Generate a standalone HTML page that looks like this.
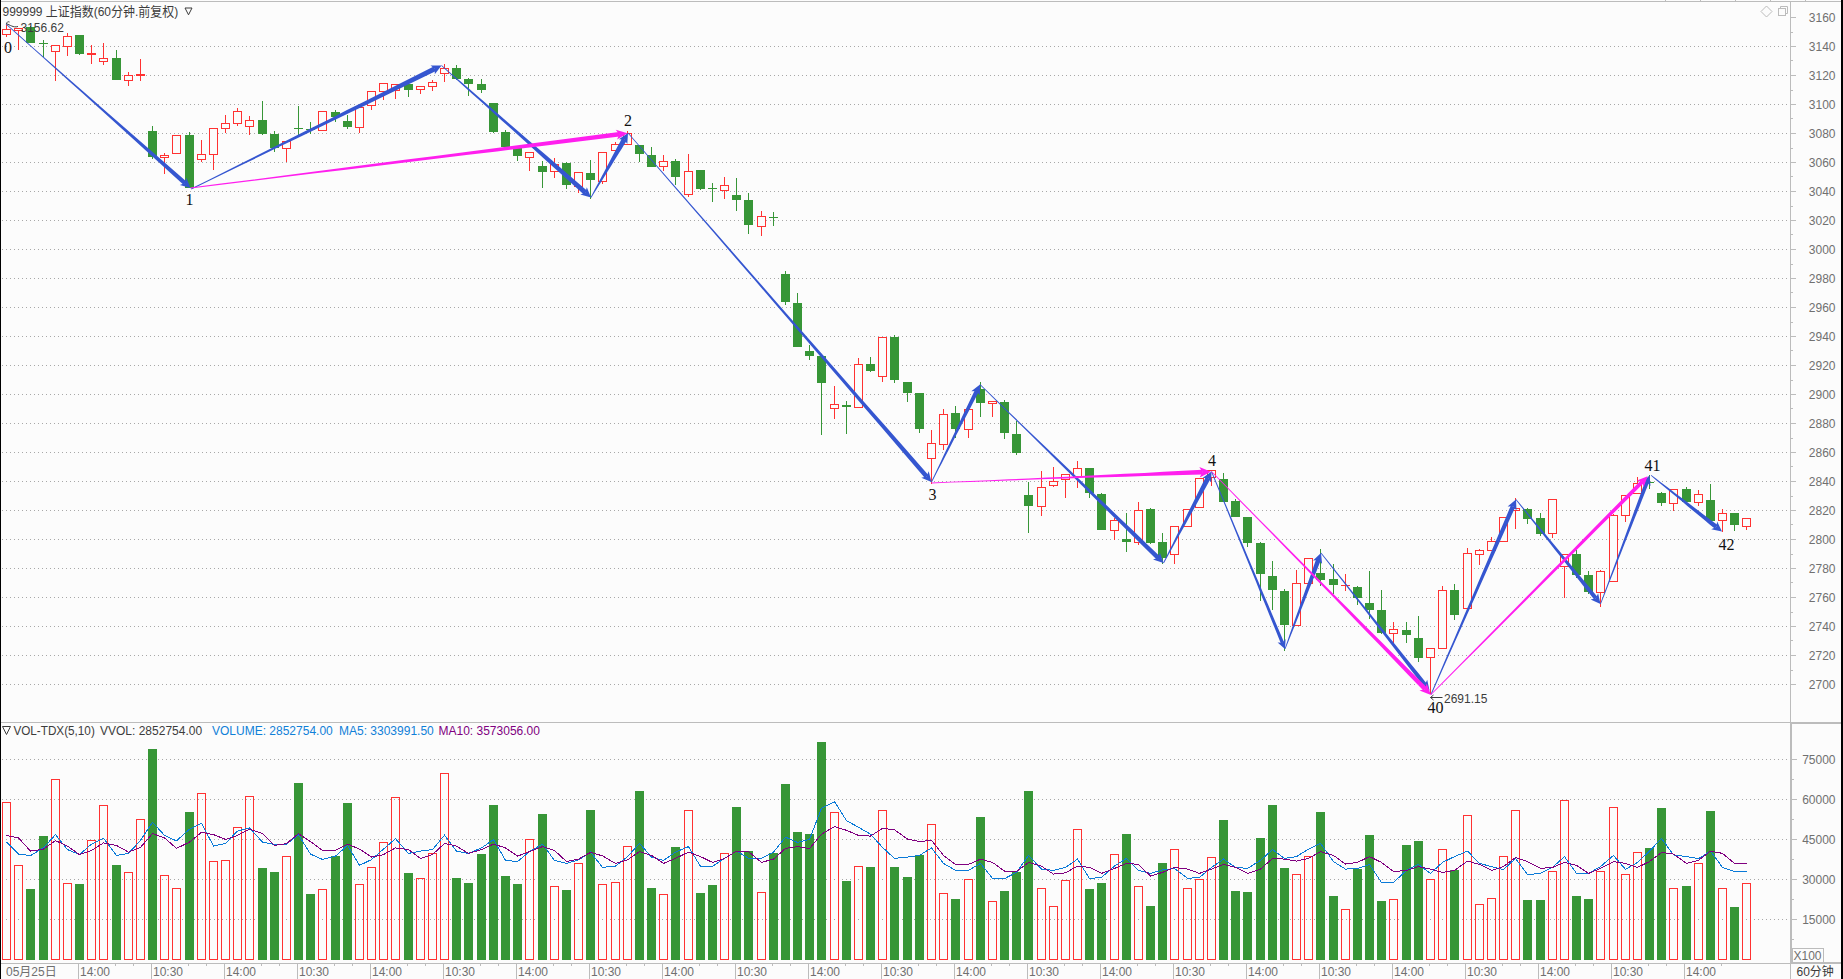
<!DOCTYPE html>
<html lang="zh"><head><meta charset="utf-8"><title>999999 上证指数</title>
<style>html,body{margin:0;padding:0;background:#fcfcfc;overflow:hidden}body{width:1843px;height:979px;position:relative}</style></head>
<body>
<svg width="1843" height="979" viewBox="0 0 1843 979" style="position:absolute;left:0;top:0;display:block" font-family="Liberation Sans, Noto Sans CJK SC, sans-serif">
<rect width="1843" height="979" fill="#fcfcfc"/>
<g stroke="#a8a8a8" stroke-width="1" stroke-dasharray="1 3" shape-rendering="crispEdges">
<line x1="2" y1="46.5" x2="1789" y2="46.5"/>
<line x1="2" y1="75.5" x2="1789" y2="75.5"/>
<line x1="2" y1="104.5" x2="1789" y2="104.5"/>
<line x1="2" y1="133.5" x2="1789" y2="133.5"/>
<line x1="2" y1="162.5" x2="1789" y2="162.5"/>
<line x1="2" y1="191.5" x2="1789" y2="191.5"/>
<line x1="2" y1="220.5" x2="1789" y2="220.5"/>
<line x1="2" y1="249.5" x2="1789" y2="249.5"/>
<line x1="2" y1="278.5" x2="1789" y2="278.5"/>
<line x1="2" y1="307.5" x2="1789" y2="307.5"/>
<line x1="2" y1="336.5" x2="1789" y2="336.5"/>
<line x1="2" y1="365.5" x2="1789" y2="365.5"/>
<line x1="2" y1="394.5" x2="1789" y2="394.5"/>
<line x1="2" y1="423.5" x2="1789" y2="423.5"/>
<line x1="2" y1="452.5" x2="1789" y2="452.5"/>
<line x1="2" y1="481.5" x2="1789" y2="481.5"/>
<line x1="2" y1="510.5" x2="1789" y2="510.5"/>
<line x1="2" y1="539.5" x2="1789" y2="539.5"/>
<line x1="2" y1="568.5" x2="1789" y2="568.5"/>
<line x1="2" y1="597.5" x2="1789" y2="597.5"/>
<line x1="2" y1="626.5" x2="1789" y2="626.5"/>
<line x1="2" y1="655.5" x2="1789" y2="655.5"/>
<line x1="2" y1="684.5" x2="1789" y2="684.5"/>
<line x1="2" y1="759.5" x2="1789" y2="759.5"/>
<line x1="2" y1="799.5" x2="1789" y2="799.5"/>
<line x1="2" y1="839.5" x2="1789" y2="839.5"/>
<line x1="2" y1="879.5" x2="1789" y2="879.5"/>
<line x1="2" y1="919.5" x2="1789" y2="919.5"/>
</g>
<g fill="#bcbcbc" shape-rendering="crispEdges">
<rect x="0" y="1" width="1841" height="1"/>
<rect x="1770" y="0" width="1" height="2"/><rect x="1805" y="0" width="1" height="2"/><rect x="1665" y="0" width="1" height="2"/><rect x="1700" y="0" width="1" height="2"/><rect x="1735" y="0" width="1" height="2"/>
<rect x="1790" y="2" width="1" height="977"/>
<rect x="1791" y="722" width="1" height="241"/>
<rect x="0" y="722" width="1841" height="1"/>
<rect x="1791" y="723" width="50" height="1"/>
<rect x="0" y="963" width="1841" height="1"/>
<rect x="1791" y="962" width="50" height="1"/>
<rect x="1791" y="17" width="5" height="1"/>
<rect x="1791" y="32" width="2" height="1"/>
<rect x="1791" y="46" width="5" height="1"/>
<rect x="1791" y="60" width="2" height="1"/>
<rect x="1791" y="75" width="5" height="1"/>
<rect x="1791" y="90" width="2" height="1"/>
<rect x="1791" y="104" width="5" height="1"/>
<rect x="1791" y="118" width="2" height="1"/>
<rect x="1791" y="133" width="5" height="1"/>
<rect x="1791" y="148" width="2" height="1"/>
<rect x="1791" y="162" width="5" height="1"/>
<rect x="1791" y="176" width="2" height="1"/>
<rect x="1791" y="191" width="5" height="1"/>
<rect x="1791" y="206" width="2" height="1"/>
<rect x="1791" y="220" width="5" height="1"/>
<rect x="1791" y="234" width="2" height="1"/>
<rect x="1791" y="249" width="5" height="1"/>
<rect x="1791" y="264" width="2" height="1"/>
<rect x="1791" y="278" width="5" height="1"/>
<rect x="1791" y="292" width="2" height="1"/>
<rect x="1791" y="307" width="5" height="1"/>
<rect x="1791" y="322" width="2" height="1"/>
<rect x="1791" y="336" width="5" height="1"/>
<rect x="1791" y="350" width="2" height="1"/>
<rect x="1791" y="365" width="5" height="1"/>
<rect x="1791" y="380" width="2" height="1"/>
<rect x="1791" y="394" width="5" height="1"/>
<rect x="1791" y="408" width="2" height="1"/>
<rect x="1791" y="423" width="5" height="1"/>
<rect x="1791" y="438" width="2" height="1"/>
<rect x="1791" y="452" width="5" height="1"/>
<rect x="1791" y="466" width="2" height="1"/>
<rect x="1791" y="481" width="5" height="1"/>
<rect x="1791" y="496" width="2" height="1"/>
<rect x="1791" y="510" width="5" height="1"/>
<rect x="1791" y="524" width="2" height="1"/>
<rect x="1791" y="539" width="5" height="1"/>
<rect x="1791" y="554" width="2" height="1"/>
<rect x="1791" y="568" width="5" height="1"/>
<rect x="1791" y="582" width="2" height="1"/>
<rect x="1791" y="597" width="5" height="1"/>
<rect x="1791" y="612" width="2" height="1"/>
<rect x="1791" y="626" width="5" height="1"/>
<rect x="1791" y="640" width="2" height="1"/>
<rect x="1791" y="655" width="5" height="1"/>
<rect x="1791" y="670" width="2" height="1"/>
<rect x="1791" y="684" width="5" height="1"/>
<rect x="1792" y="939" width="2" height="1"/>
<rect x="1792" y="919" width="5" height="1"/>
<rect x="1792" y="899" width="2" height="1"/>
<rect x="1792" y="879" width="5" height="1"/>
<rect x="1792" y="859" width="2" height="1"/>
<rect x="1792" y="839" width="5" height="1"/>
<rect x="1792" y="819" width="2" height="1"/>
<rect x="1792" y="799" width="5" height="1"/>
<rect x="1792" y="779" width="2" height="1"/>
<rect x="1792" y="759" width="5" height="1"/>
<rect x="78" y="964" width="1" height="15"/>
<rect x="115" y="964" width="1" height="2"/>
<rect x="133" y="964" width="1" height="2"/>
<rect x="151" y="964" width="1" height="15"/>
<rect x="188" y="964" width="1" height="2"/>
<rect x="206" y="964" width="1" height="2"/>
<rect x="224" y="964" width="1" height="15"/>
<rect x="261" y="964" width="1" height="2"/>
<rect x="279" y="964" width="1" height="2"/>
<rect x="297" y="964" width="1" height="15"/>
<rect x="334" y="964" width="1" height="2"/>
<rect x="352" y="964" width="1" height="2"/>
<rect x="370" y="964" width="1" height="15"/>
<rect x="407" y="964" width="1" height="2"/>
<rect x="425" y="964" width="1" height="2"/>
<rect x="443" y="964" width="1" height="15"/>
<rect x="480" y="964" width="1" height="2"/>
<rect x="498" y="964" width="1" height="2"/>
<rect x="516" y="964" width="1" height="15"/>
<rect x="553" y="964" width="1" height="2"/>
<rect x="571" y="964" width="1" height="2"/>
<rect x="589" y="964" width="1" height="15"/>
<rect x="626" y="964" width="1" height="2"/>
<rect x="644" y="964" width="1" height="2"/>
<rect x="662" y="964" width="1" height="15"/>
<rect x="699" y="964" width="1" height="2"/>
<rect x="717" y="964" width="1" height="2"/>
<rect x="735" y="964" width="1" height="15"/>
<rect x="772" y="964" width="1" height="2"/>
<rect x="790" y="964" width="1" height="2"/>
<rect x="808" y="964" width="1" height="15"/>
<rect x="845" y="964" width="1" height="2"/>
<rect x="863" y="964" width="1" height="2"/>
<rect x="881" y="964" width="1" height="15"/>
<rect x="918" y="964" width="1" height="2"/>
<rect x="936" y="964" width="1" height="2"/>
<rect x="954" y="964" width="1" height="15"/>
<rect x="991" y="964" width="1" height="2"/>
<rect x="1009" y="964" width="1" height="2"/>
<rect x="1027" y="964" width="1" height="15"/>
<rect x="1064" y="964" width="1" height="2"/>
<rect x="1082" y="964" width="1" height="2"/>
<rect x="1100" y="964" width="1" height="15"/>
<rect x="1137" y="964" width="1" height="2"/>
<rect x="1155" y="964" width="1" height="2"/>
<rect x="1173" y="964" width="1" height="15"/>
<rect x="1210" y="964" width="1" height="2"/>
<rect x="1228" y="964" width="1" height="2"/>
<rect x="1246" y="964" width="1" height="15"/>
<rect x="1283" y="964" width="1" height="2"/>
<rect x="1301" y="964" width="1" height="2"/>
<rect x="1319" y="964" width="1" height="15"/>
<rect x="1356" y="964" width="1" height="2"/>
<rect x="1374" y="964" width="1" height="2"/>
<rect x="1392" y="964" width="1" height="15"/>
<rect x="1429" y="964" width="1" height="2"/>
<rect x="1447" y="964" width="1" height="2"/>
<rect x="1465" y="964" width="1" height="15"/>
<rect x="1502" y="964" width="1" height="2"/>
<rect x="1520" y="964" width="1" height="2"/>
<rect x="1538" y="964" width="1" height="15"/>
<rect x="1575" y="964" width="1" height="2"/>
<rect x="1593" y="964" width="1" height="2"/>
<rect x="1611" y="964" width="1" height="15"/>
<rect x="1648" y="964" width="1" height="2"/>
<rect x="1666" y="964" width="1" height="2"/>
<rect x="1684" y="964" width="1" height="15"/>
<rect x="1721" y="964" width="1" height="2"/>
</g><rect x="1792.5" y="948.5" width="31" height="14" fill="none" stroke="#bcbcbc" stroke-width="1" shape-rendering="crispEdges"/>
<g fill="none" stroke="#bcbcbc" stroke-width="1"><path d="M1766.5 6 L1772 11.5 L1766.5 17 L1761 11.5 Z"/><path d="M1780.5 8.5 V6.5 H1787.5 V13.5 H1785.5"/><rect x="1778.5" y="8.5" width="7" height="7"/></g>
<rect x="0" y="0" width="1" height="979" fill="#000"/><rect x="1841" y="0" width="2" height="979" fill="#000"/>
<g font-size="12" fill="#707070" text-anchor="end">
<text x="1835.5" y="21.8">3160</text>
<text x="1835.5" y="50.8">3140</text>
<text x="1835.5" y="79.8">3120</text>
<text x="1835.5" y="108.8">3100</text>
<text x="1835.5" y="137.8">3080</text>
<text x="1835.5" y="166.8">3060</text>
<text x="1835.5" y="195.8">3040</text>
<text x="1835.5" y="224.8">3020</text>
<text x="1835.5" y="253.8">3000</text>
<text x="1835.5" y="282.8">2980</text>
<text x="1835.5" y="311.8">2960</text>
<text x="1835.5" y="340.8">2940</text>
<text x="1835.5" y="369.8">2920</text>
<text x="1835.5" y="398.8">2900</text>
<text x="1835.5" y="427.8">2880</text>
<text x="1835.5" y="456.8">2860</text>
<text x="1835.5" y="485.8">2840</text>
<text x="1835.5" y="514.8">2820</text>
<text x="1835.5" y="543.8">2800</text>
<text x="1835.5" y="572.8">2780</text>
<text x="1835.5" y="601.8">2760</text>
<text x="1835.5" y="630.8">2740</text>
<text x="1835.5" y="659.8">2720</text>
<text x="1835.5" y="688.8">2700</text>
<text x="1835.5" y="763.8">75000</text>
<text x="1835.5" y="803.8">60000</text>
<text x="1835.5" y="843.8">45000</text>
<text x="1835.5" y="883.8">30000</text>
<text x="1835.5" y="923.8">15000</text>
</g>
<text x="1793.5" y="960" font-size="12" fill="#707070">X100</text>
<text x="1796.5" y="976" font-size="12" fill="#3c3c3c">60分钟</text>
<g font-size="12" fill="#707070">
<text x="6" y="976">05月25日</text>
<text x="80.0" y="976">14:00</text>
<text x="153.0" y="976">10:30</text>
<text x="226.0" y="976">14:00</text>
<text x="299.0" y="976">10:30</text>
<text x="372.0" y="976">14:00</text>
<text x="445.0" y="976">10:30</text>
<text x="518.0" y="976">14:00</text>
<text x="591.0" y="976">10:30</text>
<text x="664.0" y="976">14:00</text>
<text x="737.0" y="976">10:30</text>
<text x="810.0" y="976">14:00</text>
<text x="883.0" y="976">10:30</text>
<text x="956.0" y="976">14:00</text>
<text x="1029.0" y="976">10:30</text>
<text x="1102.0" y="976">14:00</text>
<text x="1175.0" y="976">10:30</text>
<text x="1248.0" y="976">14:00</text>
<text x="1321.0" y="976">10:30</text>
<text x="1394.0" y="976">14:00</text>
<text x="1467.0" y="976">10:30</text>
<text x="1540.0" y="976">14:00</text>
<text x="1613.0" y="976">10:30</text>
<text x="1686.0" y="976">14:00</text>
</g>
<g shape-rendering="crispEdges">
<rect x="2.5" y="802.5" width="8" height="157" fill="none" stroke="#ff3232" stroke-width="1"/>
<rect x="14.5" y="865.5" width="8" height="94" fill="none" stroke="#ff3232" stroke-width="1"/>
<rect x="26" y="889" width="9" height="71" fill="#379637"/>
<rect x="39" y="836" width="9" height="124" fill="#379637"/>
<rect x="51.5" y="779.5" width="8" height="180" fill="none" stroke="#ff3232" stroke-width="1"/>
<rect x="63.5" y="883.5" width="8" height="76" fill="none" stroke="#ff3232" stroke-width="1"/>
<rect x="75" y="884" width="9" height="76" fill="#379637"/>
<rect x="87.5" y="840.5" width="8" height="119" fill="none" stroke="#ff3232" stroke-width="1"/>
<rect x="99.5" y="805.5" width="8" height="154" fill="none" stroke="#ff3232" stroke-width="1"/>
<rect x="112" y="865" width="9" height="95" fill="#379637"/>
<rect x="124.5" y="872.5" width="8" height="87" fill="none" stroke="#ff3232" stroke-width="1"/>
<rect x="136.5" y="819.5" width="8" height="140" fill="none" stroke="#ff3232" stroke-width="1"/>
<rect x="148" y="749" width="9" height="211" fill="#379637"/>
<rect x="160.5" y="875.5" width="8" height="84" fill="none" stroke="#ff3232" stroke-width="1"/>
<rect x="172.5" y="888.5" width="8" height="71" fill="none" stroke="#ff3232" stroke-width="1"/>
<rect x="185" y="812" width="9" height="148" fill="#379637"/>
<rect x="197.5" y="793.5" width="8" height="166" fill="none" stroke="#ff3232" stroke-width="1"/>
<rect x="209.5" y="861.5" width="8" height="98" fill="none" stroke="#ff3232" stroke-width="1"/>
<rect x="221.5" y="860.5" width="8" height="99" fill="none" stroke="#ff3232" stroke-width="1"/>
<rect x="233.5" y="827.5" width="8" height="132" fill="none" stroke="#ff3232" stroke-width="1"/>
<rect x="245.5" y="796.5" width="8" height="163" fill="none" stroke="#ff3232" stroke-width="1"/>
<rect x="258" y="868" width="9" height="92" fill="#379637"/>
<rect x="270" y="872" width="9" height="88" fill="#379637"/>
<rect x="282.5" y="856.5" width="8" height="103" fill="none" stroke="#ff3232" stroke-width="1"/>
<rect x="294" y="783" width="9" height="177" fill="#379637"/>
<rect x="306" y="894" width="9" height="66" fill="#379637"/>
<rect x="318.5" y="889.5" width="8" height="70" fill="none" stroke="#ff3232" stroke-width="1"/>
<rect x="331" y="856" width="9" height="104" fill="#379637"/>
<rect x="343" y="803" width="9" height="157" fill="#379637"/>
<rect x="355.5" y="884.5" width="8" height="75" fill="none" stroke="#ff3232" stroke-width="1"/>
<rect x="367.5" y="867.5" width="8" height="92" fill="none" stroke="#ff3232" stroke-width="1"/>
<rect x="379.5" y="842.5" width="8" height="117" fill="none" stroke="#ff3232" stroke-width="1"/>
<rect x="391.5" y="797.5" width="8" height="162" fill="none" stroke="#ff3232" stroke-width="1"/>
<rect x="404" y="873" width="9" height="87" fill="#379637"/>
<rect x="416.5" y="878.5" width="8" height="81" fill="none" stroke="#ff3232" stroke-width="1"/>
<rect x="428.5" y="853.5" width="8" height="106" fill="none" stroke="#ff3232" stroke-width="1"/>
<rect x="440.5" y="773.5" width="8" height="186" fill="none" stroke="#ff3232" stroke-width="1"/>
<rect x="452" y="878" width="9" height="82" fill="#379637"/>
<rect x="464" y="883" width="9" height="77" fill="#379637"/>
<rect x="477" y="854" width="9" height="106" fill="#379637"/>
<rect x="489" y="805" width="9" height="155" fill="#379637"/>
<rect x="501" y="876" width="9" height="84" fill="#379637"/>
<rect x="513" y="884" width="9" height="76" fill="#379637"/>
<rect x="525.5" y="839.5" width="8" height="120" fill="none" stroke="#ff3232" stroke-width="1"/>
<rect x="538" y="814" width="9" height="146" fill="#379637"/>
<rect x="550.5" y="886.5" width="8" height="73" fill="none" stroke="#ff3232" stroke-width="1"/>
<rect x="562" y="890" width="9" height="70" fill="#379637"/>
<rect x="574.5" y="863.5" width="8" height="96" fill="none" stroke="#ff3232" stroke-width="1"/>
<rect x="586" y="810" width="9" height="150" fill="#379637"/>
<rect x="598.5" y="884.5" width="8" height="75" fill="none" stroke="#ff3232" stroke-width="1"/>
<rect x="611.5" y="882.5" width="8" height="77" fill="none" stroke="#ff3232" stroke-width="1"/>
<rect x="623.5" y="846.5" width="8" height="113" fill="none" stroke="#ff3232" stroke-width="1"/>
<rect x="635" y="791" width="9" height="169" fill="#379637"/>
<rect x="647" y="888" width="9" height="72" fill="#379637"/>
<rect x="659.5" y="894.5" width="8" height="65" fill="none" stroke="#ff3232" stroke-width="1"/>
<rect x="671" y="847" width="9" height="113" fill="#379637"/>
<rect x="684.5" y="810.5" width="8" height="149" fill="none" stroke="#ff3232" stroke-width="1"/>
<rect x="696" y="893" width="9" height="67" fill="#379637"/>
<rect x="708" y="885" width="9" height="75" fill="#379637"/>
<rect x="720.5" y="853.5" width="8" height="106" fill="none" stroke="#ff3232" stroke-width="1"/>
<rect x="732" y="807" width="9" height="153" fill="#379637"/>
<rect x="744" y="851" width="9" height="109" fill="#379637"/>
<rect x="757.5" y="892.5" width="8" height="67" fill="none" stroke="#ff3232" stroke-width="1"/>
<rect x="769" y="853" width="9" height="107" fill="#379637"/>
<rect x="781" y="784" width="9" height="176" fill="#379637"/>
<rect x="793" y="832" width="9" height="128" fill="#379637"/>
<rect x="805" y="834" width="9" height="126" fill="#379637"/>
<rect x="817" y="742" width="9" height="218" fill="#379637"/>
<rect x="830.5" y="812.5" width="8" height="147" fill="none" stroke="#ff3232" stroke-width="1"/>
<rect x="842" y="881" width="9" height="79" fill="#379637"/>
<rect x="854.5" y="866.5" width="8" height="93" fill="none" stroke="#ff3232" stroke-width="1"/>
<rect x="866" y="867" width="9" height="93" fill="#379637"/>
<rect x="878.5" y="810.5" width="8" height="149" fill="none" stroke="#ff3232" stroke-width="1"/>
<rect x="890" y="867" width="9" height="93" fill="#379637"/>
<rect x="903" y="877" width="9" height="83" fill="#379637"/>
<rect x="915" y="855" width="9" height="105" fill="#379637"/>
<rect x="927.5" y="824.5" width="8" height="135" fill="none" stroke="#ff3232" stroke-width="1"/>
<rect x="939.5" y="893.5" width="8" height="66" fill="none" stroke="#ff3232" stroke-width="1"/>
<rect x="951" y="899" width="9" height="61" fill="#379637"/>
<rect x="964.5" y="879.5" width="8" height="80" fill="none" stroke="#ff3232" stroke-width="1"/>
<rect x="976" y="817" width="9" height="143" fill="#379637"/>
<rect x="988.5" y="901.5" width="8" height="58" fill="none" stroke="#ff3232" stroke-width="1"/>
<rect x="1000" y="891" width="9" height="69" fill="#379637"/>
<rect x="1012" y="872" width="9" height="88" fill="#379637"/>
<rect x="1024" y="791" width="9" height="169" fill="#379637"/>
<rect x="1037.5" y="888.5" width="8" height="71" fill="none" stroke="#ff3232" stroke-width="1"/>
<rect x="1049.5" y="906.5" width="8" height="53" fill="none" stroke="#ff3232" stroke-width="1"/>
<rect x="1061.5" y="880.5" width="8" height="79" fill="none" stroke="#ff3232" stroke-width="1"/>
<rect x="1073.5" y="829.5" width="8" height="130" fill="none" stroke="#ff3232" stroke-width="1"/>
<rect x="1085" y="889" width="9" height="71" fill="#379637"/>
<rect x="1097" y="883" width="9" height="77" fill="#379637"/>
<rect x="1110.5" y="854.5" width="8" height="105" fill="none" stroke="#ff3232" stroke-width="1"/>
<rect x="1122" y="834" width="9" height="126" fill="#379637"/>
<rect x="1134.5" y="886.5" width="8" height="73" fill="none" stroke="#ff3232" stroke-width="1"/>
<rect x="1146" y="906" width="9" height="54" fill="#379637"/>
<rect x="1158" y="863" width="9" height="97" fill="#379637"/>
<rect x="1170.5" y="849.5" width="8" height="110" fill="none" stroke="#ff3232" stroke-width="1"/>
<rect x="1183.5" y="888.5" width="8" height="71" fill="none" stroke="#ff3232" stroke-width="1"/>
<rect x="1195.5" y="879.5" width="8" height="80" fill="none" stroke="#ff3232" stroke-width="1"/>
<rect x="1207.5" y="857.5" width="8" height="102" fill="none" stroke="#ff3232" stroke-width="1"/>
<rect x="1219" y="820" width="9" height="140" fill="#379637"/>
<rect x="1231" y="891" width="9" height="69" fill="#379637"/>
<rect x="1243" y="892" width="9" height="68" fill="#379637"/>
<rect x="1256" y="838" width="9" height="122" fill="#379637"/>
<rect x="1268" y="805" width="9" height="155" fill="#379637"/>
<rect x="1280" y="868" width="9" height="92" fill="#379637"/>
<rect x="1292.5" y="874.5" width="8" height="85" fill="none" stroke="#ff3232" stroke-width="1"/>
<rect x="1304.5" y="856.5" width="8" height="103" fill="none" stroke="#ff3232" stroke-width="1"/>
<rect x="1316" y="812" width="9" height="148" fill="#379637"/>
<rect x="1329" y="896" width="9" height="64" fill="#379637"/>
<rect x="1341.5" y="909.5" width="8" height="50" fill="none" stroke="#ff3232" stroke-width="1"/>
<rect x="1353" y="869" width="9" height="91" fill="#379637"/>
<rect x="1365" y="835" width="9" height="125" fill="#379637"/>
<rect x="1377" y="901" width="9" height="59" fill="#379637"/>
<rect x="1389.5" y="899.5" width="8" height="60" fill="none" stroke="#ff3232" stroke-width="1"/>
<rect x="1402" y="845" width="9" height="115" fill="#379637"/>
<rect x="1414" y="841" width="9" height="119" fill="#379637"/>
<rect x="1426.5" y="879.5" width="8" height="80" fill="none" stroke="#ff3232" stroke-width="1"/>
<rect x="1438.5" y="849.5" width="8" height="110" fill="none" stroke="#ff3232" stroke-width="1"/>
<rect x="1450" y="870" width="9" height="90" fill="#379637"/>
<rect x="1463.5" y="815.5" width="8" height="144" fill="none" stroke="#ff3232" stroke-width="1"/>
<rect x="1475.5" y="904.5" width="8" height="55" fill="none" stroke="#ff3232" stroke-width="1"/>
<rect x="1487.5" y="898.5" width="8" height="61" fill="none" stroke="#ff3232" stroke-width="1"/>
<rect x="1499.5" y="856.5" width="8" height="103" fill="none" stroke="#ff3232" stroke-width="1"/>
<rect x="1511.5" y="810.5" width="8" height="149" fill="none" stroke="#ff3232" stroke-width="1"/>
<rect x="1523" y="900" width="9" height="60" fill="#379637"/>
<rect x="1536" y="900" width="9" height="60" fill="#379637"/>
<rect x="1548.5" y="871.5" width="8" height="88" fill="none" stroke="#ff3232" stroke-width="1"/>
<rect x="1560.5" y="800.5" width="8" height="159" fill="none" stroke="#ff3232" stroke-width="1"/>
<rect x="1572" y="896" width="9" height="64" fill="#379637"/>
<rect x="1584" y="899" width="9" height="61" fill="#379637"/>
<rect x="1596.5" y="871.5" width="8" height="88" fill="none" stroke="#ff3232" stroke-width="1"/>
<rect x="1609.5" y="807.5" width="8" height="152" fill="none" stroke="#ff3232" stroke-width="1"/>
<rect x="1621.5" y="874.5" width="8" height="85" fill="none" stroke="#ff3232" stroke-width="1"/>
<rect x="1633.5" y="852.5" width="8" height="107" fill="none" stroke="#ff3232" stroke-width="1"/>
<rect x="1645" y="848" width="9" height="112" fill="#379637"/>
<rect x="1657" y="808" width="9" height="152" fill="#379637"/>
<rect x="1669.5" y="888.5" width="8" height="71" fill="none" stroke="#ff3232" stroke-width="1"/>
<rect x="1682" y="886" width="9" height="74" fill="#379637"/>
<rect x="1694.5" y="863.5" width="8" height="96" fill="none" stroke="#ff3232" stroke-width="1"/>
<rect x="1706" y="811" width="9" height="149" fill="#379637"/>
<rect x="1718.5" y="888.5" width="8" height="71" fill="none" stroke="#ff3232" stroke-width="1"/>
<rect x="1730" y="907" width="9" height="53" fill="#379637"/>
<rect x="1742.5" y="883.5" width="8" height="76" fill="none" stroke="#ff3232" stroke-width="1"/>
</g>
<polyline points="6.5,842.1 18.5,854.1 30.5,855.6 43.5,847.9 55.5,834.6 67.5,849.6 79.5,854.6 91.5,844.1 103.5,838.1 116.5,855.4 128.5,853.4 140.5,840.4 152.5,822.3 164.5,835.4 176.5,840.9 189.5,829.1 201.5,823.3 213.5,846.1 225.5,843.4 237.5,831.1 249.5,827.8 262.5,842.1 274.5,844.6 286.5,844.1 298.5,834.9 310.5,854.1 322.5,859.4 335.5,856.1 347.5,845.4 359.5,865.4 371.5,859.6 383.5,849.1 395.5,838.6 408.5,853.4 420.5,851.1 432.5,849.6 444.5,835.1 456.5,851.1 468.5,853.4 481.5,847.9 493.5,839.6 505.5,860.4 517.5,861.6 529.5,851.6 542.5,844.1 554.5,860.4 566.5,863.4 578.5,859.9 590.5,852.1 602.5,867.4 615.5,866.1 627.5,856.6 639.5,843.4 651.5,857.1 663.5,860.4 675.5,852.1 688.5,846.6 700.5,866.4 712.5,866.4 724.5,858.4 736.5,851.1 748.5,858.1 761.5,858.4 773.5,852.1 785.5,837.1 797.5,842.4 809.5,839.4 821.5,808.3 834.5,801.6 846.5,820.6 858.5,827.3 870.5,834.1 882.5,847.4 894.5,858.4 907.5,857.1 919.5,855.4 931.5,847.9 943.5,863.4 955.5,870.4 968.5,870.4 980.5,863.4 992.5,878.4 1004.5,878.6 1016.5,872.4 1028.5,855.4 1041.5,869.1 1053.5,870.4 1065.5,867.4 1077.5,859.1 1089.5,878.6 1101.5,877.4 1114.5,866.1 1126.5,858.4 1138.5,870.4 1150.5,873.4 1162.5,869.9 1174.5,868.4 1187.5,878.4 1199.5,877.4 1211.5,867.4 1223.5,859.1 1235.5,867.4 1247.5,868.4 1260.5,860.4 1272.5,849.6 1284.5,858.4 1296.5,856.6 1308.5,849.1 1320.5,843.4 1333.5,861.6 1345.5,869.1 1357.5,868.4 1369.5,864.4 1381.5,882.4 1393.5,882.4 1406.5,870.4 1418.5,864.4 1430.5,873.4 1442.5,862.4 1454.5,856.6 1467.5,851.1 1479.5,863.4 1491.5,866.6 1503.5,869.6 1515.5,858.4 1527.5,874.6 1540.5,873.4 1552.5,867.4 1564.5,856.6 1576.5,873.4 1588.5,873.4 1600.5,866.6 1613.5,855.4 1625.5,869.4 1637.5,862.4 1649.5,851.1 1661.5,838.4 1673.5,854.9 1686.5,856.6 1698.5,858.6 1710.5,851.1 1722.5,867.4 1734.5,871.4 1746.5,871.4" fill="none" stroke="#0a7ad8" stroke-width="1" shape-rendering="crispEdges"/>
<polyline points="6.5,835.4 18.5,837.9 30.5,851.1 43.5,849.1 55.5,840.6 67.5,846.1 79.5,854.6 91.5,850.4 103.5,842.9 116.5,845.4 128.5,852.1 140.5,847.4 152.5,833.6 164.5,837.9 176.5,848.4 189.5,842.1 201.5,832.3 213.5,834.6 225.5,839.4 237.5,835.4 249.5,829.1 262.5,833.6 274.5,845.4 286.5,843.6 298.5,833.6 310.5,841.6 322.5,850.4 335.5,850.4 347.5,844.1 359.5,849.1 371.5,857.1 383.5,854.6 395.5,847.9 408.5,849.6 420.5,858.4 432.5,854.6 444.5,843.4 456.5,846.1 468.5,853.4 481.5,849.6 493.5,844.1 505.5,847.9 517.5,856.1 529.5,851.6 542.5,846.6 554.5,850.4 566.5,861.6 578.5,859.1 590.5,852.4 602.5,855.9 615.5,863.4 627.5,859.9 639.5,851.6 651.5,855.4 663.5,863.4 675.5,858.4 688.5,852.1 700.5,856.6 712.5,862.4 724.5,858.4 736.5,851.1 748.5,851.6 761.5,862.4 773.5,859.1 785.5,848.4 797.5,846.6 809.5,848.6 821.5,834.1 834.5,826.6 846.5,830.3 858.5,835.4 870.5,836.1 882.5,828.3 894.5,829.8 907.5,839.1 919.5,841.6 931.5,840.4 943.5,855.4 955.5,864.4 968.5,864.4 980.5,859.1 992.5,862.4 1004.5,871.1 1016.5,871.6 1028.5,862.4 1041.5,866.1 1053.5,874.1 1065.5,872.9 1077.5,866.1 1089.5,867.4 1101.5,873.4 1114.5,868.4 1126.5,863.4 1138.5,864.4 1150.5,876.1 1162.5,872.4 1174.5,867.4 1187.5,869.1 1199.5,873.4 1211.5,869.1 1223.5,864.4 1235.5,867.4 1247.5,873.4 1260.5,869.1 1272.5,858.4 1284.5,859.1 1296.5,861.1 1308.5,858.4 1320.5,851.6 1333.5,855.4 1345.5,864.1 1357.5,862.4 1369.5,856.6 1381.5,862.4 1393.5,871.6 1406.5,870.4 1418.5,866.6 1430.5,869.1 1442.5,872.4 1454.5,870.4 1467.5,861.1 1479.5,864.4 1491.5,870.4 1503.5,866.6 1515.5,857.6 1527.5,861.6 1540.5,868.4 1552.5,867.4 1564.5,862.4 1576.5,865.4 1588.5,873.4 1600.5,868.4 1613.5,861.6 1625.5,863.4 1637.5,867.4 1649.5,861.6 1661.5,852.4 1673.5,854.1 1686.5,863.4 1698.5,860.4 1710.5,851.1 1722.5,853.4 1734.5,863.4 1746.5,863.4" fill="none" stroke="#800080" stroke-width="1" shape-rendering="crispEdges"/>
<g shape-rendering="crispEdges">
<rect x="6" y="25" width="1" height="4" fill="#ff3232"/>
<rect x="6" y="35" width="1" height="2" fill="#ff3232"/>
<rect x="2.5" y="29.5" width="8" height="5" fill="#fcfcfc" stroke="#ff3232" stroke-width="1"/>
<rect x="18" y="31" width="1" height="19" fill="#ff3232"/>
<rect x="14.5" y="28.5" width="8" height="2" fill="#fcfcfc" stroke="#ff3232" stroke-width="1"/>
<rect x="30" y="26" width="1" height="17" fill="#379637"/>
<rect x="26" y="27" width="9" height="16" fill="#379637"/>
<rect x="43" y="40" width="1" height="17" fill="#379637"/>
<rect x="39" y="43" width="9" height="1" fill="#379637"/>
<rect x="55" y="52" width="1" height="29" fill="#ff3232"/>
<rect x="51.5" y="45.5" width="8" height="6" fill="#fcfcfc" stroke="#ff3232" stroke-width="1"/>
<rect x="67" y="33" width="1" height="3" fill="#ff3232"/>
<rect x="67" y="47" width="1" height="9" fill="#ff3232"/>
<rect x="63.5" y="36.5" width="8" height="10" fill="#fcfcfc" stroke="#ff3232" stroke-width="1"/>
<rect x="79" y="35" width="1" height="20" fill="#379637"/>
<rect x="75" y="35" width="9" height="19" fill="#379637"/>
<rect x="91" y="45" width="1" height="19" fill="#ff3232"/>
<rect x="87" y="53" width="9" height="2" fill="#ff3232"/>
<rect x="103" y="43" width="1" height="15" fill="#ff3232"/>
<rect x="103" y="62" width="1" height="3" fill="#ff3232"/>
<rect x="99.5" y="58.5" width="8" height="3" fill="#fcfcfc" stroke="#ff3232" stroke-width="1"/>
<rect x="116" y="50" width="1" height="30" fill="#379637"/>
<rect x="112" y="58" width="9" height="22" fill="#379637"/>
<rect x="128" y="72" width="1" height="3" fill="#ff3232"/>
<rect x="128" y="81" width="1" height="5" fill="#ff3232"/>
<rect x="124.5" y="75.5" width="8" height="5" fill="#fcfcfc" stroke="#ff3232" stroke-width="1"/>
<rect x="140" y="59" width="1" height="22" fill="#ff3232"/>
<rect x="136" y="74" width="9" height="2" fill="#ff3232"/>
<rect x="152" y="126" width="1" height="33" fill="#379637"/>
<rect x="148" y="131" width="9" height="26" fill="#379637"/>
<rect x="164" y="153" width="1" height="2" fill="#ff3232"/>
<rect x="164" y="158" width="1" height="16" fill="#ff3232"/>
<rect x="160.5" y="155.5" width="8" height="2" fill="#fcfcfc" stroke="#ff3232" stroke-width="1"/>
<rect x="172.5" y="135.5" width="8" height="18" fill="#fcfcfc" stroke="#ff3232" stroke-width="1"/>
<rect x="189" y="132" width="1" height="56" fill="#379637"/>
<rect x="185" y="135" width="9" height="53" fill="#379637"/>
<rect x="201" y="140" width="1" height="14" fill="#ff3232"/>
<rect x="201" y="160" width="1" height="2" fill="#ff3232"/>
<rect x="197.5" y="154.5" width="8" height="5" fill="#fcfcfc" stroke="#ff3232" stroke-width="1"/>
<rect x="213" y="155" width="1" height="15" fill="#ff3232"/>
<rect x="209.5" y="128.5" width="8" height="26" fill="#fcfcfc" stroke="#ff3232" stroke-width="1"/>
<rect x="225" y="115" width="1" height="8" fill="#ff3232"/>
<rect x="225" y="129" width="1" height="4" fill="#ff3232"/>
<rect x="221.5" y="123.5" width="8" height="5" fill="#fcfcfc" stroke="#ff3232" stroke-width="1"/>
<rect x="237" y="108" width="1" height="3" fill="#ff3232"/>
<rect x="237" y="124" width="1" height="2" fill="#ff3232"/>
<rect x="233.5" y="111.5" width="8" height="12" fill="#fcfcfc" stroke="#ff3232" stroke-width="1"/>
<rect x="249" y="116" width="1" height="4" fill="#ff3232"/>
<rect x="249" y="127" width="1" height="8" fill="#ff3232"/>
<rect x="245.5" y="120.5" width="8" height="6" fill="#fcfcfc" stroke="#ff3232" stroke-width="1"/>
<rect x="262" y="101" width="1" height="34" fill="#379637"/>
<rect x="258" y="120" width="9" height="14" fill="#379637"/>
<rect x="274" y="131" width="1" height="21" fill="#379637"/>
<rect x="270" y="134" width="9" height="14" fill="#379637"/>
<rect x="286" y="149" width="1" height="13" fill="#ff3232"/>
<rect x="282.5" y="141.5" width="8" height="7" fill="#fcfcfc" stroke="#ff3232" stroke-width="1"/>
<rect x="298" y="106" width="1" height="29" fill="#379637"/>
<rect x="294" y="128" width="9" height="1" fill="#379637"/>
<rect x="310" y="122" width="1" height="12" fill="#379637"/>
<rect x="306" y="129" width="9" height="1" fill="#379637"/>
<rect x="318.5" y="111.5" width="8" height="19" fill="#fcfcfc" stroke="#ff3232" stroke-width="1"/>
<rect x="335" y="110" width="1" height="12" fill="#379637"/>
<rect x="331" y="112" width="9" height="5" fill="#379637"/>
<rect x="347" y="115" width="1" height="14" fill="#379637"/>
<rect x="343" y="121" width="9" height="6" fill="#379637"/>
<rect x="359" y="128" width="1" height="5" fill="#ff3232"/>
<rect x="355.5" y="107.5" width="8" height="20" fill="#fcfcfc" stroke="#ff3232" stroke-width="1"/>
<rect x="371" y="106" width="1" height="4" fill="#ff3232"/>
<rect x="367.5" y="91.5" width="8" height="14" fill="#fcfcfc" stroke="#ff3232" stroke-width="1"/>
<rect x="383" y="92" width="1" height="8" fill="#ff3232"/>
<rect x="379.5" y="83.5" width="8" height="8" fill="#fcfcfc" stroke="#ff3232" stroke-width="1"/>
<rect x="395" y="91" width="1" height="8" fill="#ff3232"/>
<rect x="391.5" y="84.5" width="8" height="6" fill="#fcfcfc" stroke="#ff3232" stroke-width="1"/>
<rect x="408" y="84" width="1" height="13" fill="#379637"/>
<rect x="404" y="84" width="9" height="6" fill="#379637"/>
<rect x="420" y="90" width="1" height="4" fill="#ff3232"/>
<rect x="416.5" y="86.5" width="8" height="3" fill="#fcfcfc" stroke="#ff3232" stroke-width="1"/>
<rect x="432" y="80" width="1" height="2" fill="#ff3232"/>
<rect x="432" y="87" width="1" height="4" fill="#ff3232"/>
<rect x="428.5" y="82.5" width="8" height="4" fill="#fcfcfc" stroke="#ff3232" stroke-width="1"/>
<rect x="444" y="64" width="1" height="4" fill="#ff3232"/>
<rect x="444" y="74" width="1" height="8" fill="#ff3232"/>
<rect x="440.5" y="68.5" width="8" height="5" fill="#fcfcfc" stroke="#ff3232" stroke-width="1"/>
<rect x="456" y="65" width="1" height="15" fill="#379637"/>
<rect x="452" y="68" width="9" height="11" fill="#379637"/>
<rect x="468" y="78" width="1" height="18" fill="#379637"/>
<rect x="464" y="79" width="9" height="5" fill="#379637"/>
<rect x="481" y="79" width="1" height="14" fill="#379637"/>
<rect x="477" y="84" width="9" height="6" fill="#379637"/>
<rect x="493" y="103" width="1" height="30" fill="#379637"/>
<rect x="489" y="103" width="9" height="29" fill="#379637"/>
<rect x="505" y="130" width="1" height="20" fill="#379637"/>
<rect x="501" y="132" width="9" height="15" fill="#379637"/>
<rect x="517" y="147" width="1" height="14" fill="#379637"/>
<rect x="513" y="148" width="9" height="8" fill="#379637"/>
<rect x="529" y="158" width="1" height="13" fill="#ff3232"/>
<rect x="525.5" y="152.5" width="8" height="5" fill="#fcfcfc" stroke="#ff3232" stroke-width="1"/>
<rect x="542" y="161" width="1" height="27" fill="#379637"/>
<rect x="538" y="166" width="9" height="6" fill="#379637"/>
<rect x="554" y="158" width="1" height="6" fill="#ff3232"/>
<rect x="554" y="172" width="1" height="6" fill="#ff3232"/>
<rect x="550.5" y="164.5" width="8" height="7" fill="#fcfcfc" stroke="#ff3232" stroke-width="1"/>
<rect x="566" y="162" width="1" height="27" fill="#379637"/>
<rect x="562" y="163" width="9" height="22" fill="#379637"/>
<rect x="578" y="187" width="1" height="6" fill="#ff3232"/>
<rect x="574.5" y="172.5" width="8" height="14" fill="#fcfcfc" stroke="#ff3232" stroke-width="1"/>
<rect x="590" y="160" width="1" height="39" fill="#379637"/>
<rect x="586" y="173" width="9" height="7" fill="#379637"/>
<rect x="602" y="182" width="1" height="2" fill="#ff3232"/>
<rect x="598.5" y="152.5" width="8" height="29" fill="#fcfcfc" stroke="#ff3232" stroke-width="1"/>
<rect x="615" y="142" width="1" height="2" fill="#ff3232"/>
<rect x="611.5" y="144.5" width="8" height="6" fill="#fcfcfc" stroke="#ff3232" stroke-width="1"/>
<rect x="627" y="131" width="1" height="2" fill="#ff3232"/>
<rect x="623.5" y="133.5" width="8" height="11" fill="#fcfcfc" stroke="#ff3232" stroke-width="1"/>
<rect x="639" y="145" width="1" height="17" fill="#379637"/>
<rect x="635" y="145" width="9" height="9" fill="#379637"/>
<rect x="651" y="147" width="1" height="20" fill="#379637"/>
<rect x="647" y="155" width="9" height="12" fill="#379637"/>
<rect x="663" y="155" width="1" height="6" fill="#ff3232"/>
<rect x="663" y="167" width="1" height="4" fill="#ff3232"/>
<rect x="659.5" y="161.5" width="8" height="5" fill="#fcfcfc" stroke="#ff3232" stroke-width="1"/>
<rect x="675" y="159" width="1" height="26" fill="#379637"/>
<rect x="671" y="161" width="9" height="16" fill="#379637"/>
<rect x="688" y="154" width="1" height="17" fill="#ff3232"/>
<rect x="688" y="195" width="1" height="2" fill="#ff3232"/>
<rect x="684.5" y="171.5" width="8" height="23" fill="#fcfcfc" stroke="#ff3232" stroke-width="1"/>
<rect x="700" y="170" width="1" height="20" fill="#379637"/>
<rect x="696" y="170" width="9" height="19" fill="#379637"/>
<rect x="712" y="183" width="1" height="19" fill="#379637"/>
<rect x="708" y="188" width="9" height="1" fill="#379637"/>
<rect x="724" y="177" width="1" height="8" fill="#ff3232"/>
<rect x="724" y="191" width="1" height="8" fill="#ff3232"/>
<rect x="720.5" y="185.5" width="8" height="5" fill="#fcfcfc" stroke="#ff3232" stroke-width="1"/>
<rect x="736" y="178" width="1" height="33" fill="#379637"/>
<rect x="732" y="195" width="9" height="5" fill="#379637"/>
<rect x="748" y="193" width="1" height="41" fill="#379637"/>
<rect x="744" y="200" width="9" height="25" fill="#379637"/>
<rect x="761" y="211" width="1" height="5" fill="#ff3232"/>
<rect x="761" y="227" width="1" height="9" fill="#ff3232"/>
<rect x="757.5" y="216.5" width="8" height="10" fill="#fcfcfc" stroke="#ff3232" stroke-width="1"/>
<rect x="773" y="212" width="1" height="14" fill="#379637"/>
<rect x="769" y="217" width="9" height="1" fill="#379637"/>
<rect x="785" y="271" width="1" height="34" fill="#379637"/>
<rect x="781" y="274" width="9" height="28" fill="#379637"/>
<rect x="797" y="293" width="1" height="54" fill="#379637"/>
<rect x="793" y="303" width="9" height="44" fill="#379637"/>
<rect x="809" y="345" width="1" height="15" fill="#379637"/>
<rect x="805" y="351" width="9" height="5" fill="#379637"/>
<rect x="821" y="356" width="1" height="79" fill="#379637"/>
<rect x="817" y="356" width="9" height="27" fill="#379637"/>
<rect x="834" y="386" width="1" height="18" fill="#ff3232"/>
<rect x="834" y="409" width="1" height="10" fill="#ff3232"/>
<rect x="830.5" y="404.5" width="8" height="4" fill="#fcfcfc" stroke="#ff3232" stroke-width="1"/>
<rect x="846" y="401" width="1" height="33" fill="#379637"/>
<rect x="842" y="405" width="9" height="2" fill="#379637"/>
<rect x="858" y="358" width="1" height="6" fill="#ff3232"/>
<rect x="854.5" y="364.5" width="8" height="43" fill="#fcfcfc" stroke="#ff3232" stroke-width="1"/>
<rect x="870" y="357" width="1" height="15" fill="#379637"/>
<rect x="866" y="364" width="9" height="7" fill="#379637"/>
<rect x="882" y="377" width="1" height="5" fill="#ff3232"/>
<rect x="878.5" y="337.5" width="8" height="39" fill="#fcfcfc" stroke="#ff3232" stroke-width="1"/>
<rect x="894" y="335" width="1" height="48" fill="#379637"/>
<rect x="890" y="337" width="9" height="43" fill="#379637"/>
<rect x="907" y="382" width="1" height="20" fill="#379637"/>
<rect x="903" y="382" width="9" height="11" fill="#379637"/>
<rect x="919" y="393" width="1" height="40" fill="#379637"/>
<rect x="915" y="393" width="9" height="36" fill="#379637"/>
<rect x="931" y="430" width="1" height="13" fill="#ff3232"/>
<rect x="931" y="459" width="1" height="25" fill="#ff3232"/>
<rect x="927.5" y="443.5" width="8" height="15" fill="#fcfcfc" stroke="#ff3232" stroke-width="1"/>
<rect x="943" y="409" width="1" height="5" fill="#ff3232"/>
<rect x="943" y="445" width="1" height="5" fill="#ff3232"/>
<rect x="939.5" y="414.5" width="8" height="30" fill="#fcfcfc" stroke="#ff3232" stroke-width="1"/>
<rect x="955" y="406" width="1" height="32" fill="#379637"/>
<rect x="951" y="413" width="9" height="16" fill="#379637"/>
<rect x="968" y="430" width="1" height="8" fill="#ff3232"/>
<rect x="964.5" y="409.5" width="8" height="20" fill="#fcfcfc" stroke="#ff3232" stroke-width="1"/>
<rect x="980" y="382" width="1" height="35" fill="#379637"/>
<rect x="976" y="389" width="9" height="14" fill="#379637"/>
<rect x="992" y="404" width="1" height="13" fill="#ff3232"/>
<rect x="988.5" y="401.5" width="8" height="2" fill="#fcfcfc" stroke="#ff3232" stroke-width="1"/>
<rect x="1004" y="400" width="1" height="39" fill="#379637"/>
<rect x="1000" y="402" width="9" height="31" fill="#379637"/>
<rect x="1016" y="421" width="1" height="34" fill="#379637"/>
<rect x="1012" y="434" width="9" height="19" fill="#379637"/>
<rect x="1028" y="482" width="1" height="51" fill="#379637"/>
<rect x="1024" y="495" width="9" height="11" fill="#379637"/>
<rect x="1041" y="471" width="1" height="16" fill="#ff3232"/>
<rect x="1041" y="507" width="1" height="9" fill="#ff3232"/>
<rect x="1037.5" y="487.5" width="8" height="19" fill="#fcfcfc" stroke="#ff3232" stroke-width="1"/>
<rect x="1053" y="467" width="1" height="14" fill="#ff3232"/>
<rect x="1053" y="486" width="1" height="1" fill="#ff3232"/>
<rect x="1049.5" y="481.5" width="8" height="4" fill="#fcfcfc" stroke="#ff3232" stroke-width="1"/>
<rect x="1065" y="480" width="1" height="18" fill="#ff3232"/>
<rect x="1061.5" y="474.5" width="8" height="5" fill="#fcfcfc" stroke="#ff3232" stroke-width="1"/>
<rect x="1077" y="461" width="1" height="7" fill="#ff3232"/>
<rect x="1077" y="477" width="1" height="11" fill="#ff3232"/>
<rect x="1073.5" y="468.5" width="8" height="8" fill="#fcfcfc" stroke="#ff3232" stroke-width="1"/>
<rect x="1089" y="468" width="1" height="30" fill="#379637"/>
<rect x="1085" y="468" width="9" height="25" fill="#379637"/>
<rect x="1101" y="493" width="1" height="37" fill="#379637"/>
<rect x="1097" y="494" width="9" height="36" fill="#379637"/>
<rect x="1114" y="518" width="1" height="2" fill="#ff3232"/>
<rect x="1114" y="531" width="1" height="9" fill="#ff3232"/>
<rect x="1110.5" y="520.5" width="8" height="10" fill="#fcfcfc" stroke="#ff3232" stroke-width="1"/>
<rect x="1126" y="513" width="1" height="39" fill="#379637"/>
<rect x="1122" y="539" width="9" height="3" fill="#379637"/>
<rect x="1138" y="502" width="1" height="8" fill="#ff3232"/>
<rect x="1138" y="543" width="1" height="2" fill="#ff3232"/>
<rect x="1134.5" y="510.5" width="8" height="32" fill="#fcfcfc" stroke="#ff3232" stroke-width="1"/>
<rect x="1150" y="508" width="1" height="36" fill="#379637"/>
<rect x="1146" y="509" width="9" height="34" fill="#379637"/>
<rect x="1162" y="533" width="1" height="31" fill="#379637"/>
<rect x="1158" y="542" width="9" height="16" fill="#379637"/>
<rect x="1174" y="555" width="1" height="9" fill="#ff3232"/>
<rect x="1170.5" y="526.5" width="8" height="28" fill="#fcfcfc" stroke="#ff3232" stroke-width="1"/>
<rect x="1183.5" y="509.5" width="8" height="17" fill="#fcfcfc" stroke="#ff3232" stroke-width="1"/>
<rect x="1195.5" y="478.5" width="8" height="29" fill="#fcfcfc" stroke="#ff3232" stroke-width="1"/>
<rect x="1211" y="478" width="1" height="8" fill="#ff3232"/>
<rect x="1207.5" y="470.5" width="8" height="7" fill="#fcfcfc" stroke="#ff3232" stroke-width="1"/>
<rect x="1223" y="473" width="1" height="29" fill="#379637"/>
<rect x="1219" y="479" width="9" height="23" fill="#379637"/>
<rect x="1235" y="499" width="1" height="18" fill="#379637"/>
<rect x="1231" y="501" width="9" height="16" fill="#379637"/>
<rect x="1247" y="517" width="1" height="30" fill="#379637"/>
<rect x="1243" y="517" width="9" height="26" fill="#379637"/>
<rect x="1260" y="542" width="1" height="59" fill="#379637"/>
<rect x="1256" y="543" width="9" height="31" fill="#379637"/>
<rect x="1272" y="561" width="1" height="49" fill="#379637"/>
<rect x="1268" y="576" width="9" height="14" fill="#379637"/>
<rect x="1284" y="589" width="1" height="62" fill="#379637"/>
<rect x="1280" y="591" width="9" height="34" fill="#379637"/>
<rect x="1296" y="570" width="1" height="13" fill="#ff3232"/>
<rect x="1292.5" y="583.5" width="8" height="42" fill="#fcfcfc" stroke="#ff3232" stroke-width="1"/>
<rect x="1304.5" y="558.5" width="8" height="25" fill="#fcfcfc" stroke="#ff3232" stroke-width="1"/>
<rect x="1320" y="549" width="1" height="37" fill="#379637"/>
<rect x="1316" y="573" width="9" height="7" fill="#379637"/>
<rect x="1333" y="564" width="1" height="30" fill="#379637"/>
<rect x="1329" y="579" width="9" height="6" fill="#379637"/>
<rect x="1345" y="574" width="1" height="17" fill="#ff3232"/>
<rect x="1341" y="585" width="9" height="1" fill="#ff3232"/>
<rect x="1357" y="586" width="1" height="19" fill="#379637"/>
<rect x="1353" y="587" width="9" height="11" fill="#379637"/>
<rect x="1369" y="571" width="1" height="48" fill="#379637"/>
<rect x="1365" y="603" width="9" height="7" fill="#379637"/>
<rect x="1381" y="590" width="1" height="44" fill="#379637"/>
<rect x="1377" y="610" width="9" height="23" fill="#379637"/>
<rect x="1393" y="622" width="1" height="7" fill="#ff3232"/>
<rect x="1393" y="634" width="1" height="9" fill="#ff3232"/>
<rect x="1389.5" y="629.5" width="8" height="4" fill="#fcfcfc" stroke="#ff3232" stroke-width="1"/>
<rect x="1406" y="622" width="1" height="21" fill="#379637"/>
<rect x="1402" y="630" width="9" height="5" fill="#379637"/>
<rect x="1418" y="616" width="1" height="46" fill="#379637"/>
<rect x="1414" y="638" width="9" height="20" fill="#379637"/>
<rect x="1430" y="658" width="1" height="36" fill="#ff3232"/>
<rect x="1426.5" y="648.5" width="8" height="9" fill="#fcfcfc" stroke="#ff3232" stroke-width="1"/>
<rect x="1442" y="586" width="1" height="4" fill="#ff3232"/>
<rect x="1438.5" y="590.5" width="8" height="58" fill="#fcfcfc" stroke="#ff3232" stroke-width="1"/>
<rect x="1454" y="584" width="1" height="36" fill="#379637"/>
<rect x="1450" y="590" width="9" height="25" fill="#379637"/>
<rect x="1467" y="548" width="1" height="5" fill="#ff3232"/>
<rect x="1463.5" y="553.5" width="8" height="55" fill="#fcfcfc" stroke="#ff3232" stroke-width="1"/>
<rect x="1479" y="549" width="1" height="1" fill="#ff3232"/>
<rect x="1479" y="555" width="1" height="10" fill="#ff3232"/>
<rect x="1475.5" y="550.5" width="8" height="4" fill="#fcfcfc" stroke="#ff3232" stroke-width="1"/>
<rect x="1491" y="537" width="1" height="4" fill="#ff3232"/>
<rect x="1487.5" y="541.5" width="8" height="9" fill="#fcfcfc" stroke="#ff3232" stroke-width="1"/>
<rect x="1499.5" y="517.5" width="8" height="24" fill="#fcfcfc" stroke="#ff3232" stroke-width="1"/>
<rect x="1515" y="498" width="1" height="10" fill="#ff3232"/>
<rect x="1515" y="511" width="1" height="18" fill="#ff3232"/>
<rect x="1511.5" y="508.5" width="8" height="2" fill="#fcfcfc" stroke="#ff3232" stroke-width="1"/>
<rect x="1527" y="508" width="1" height="16" fill="#379637"/>
<rect x="1523" y="509" width="9" height="10" fill="#379637"/>
<rect x="1540" y="513" width="1" height="23" fill="#379637"/>
<rect x="1536" y="518" width="9" height="16" fill="#379637"/>
<rect x="1552" y="534" width="1" height="4" fill="#ff3232"/>
<rect x="1548.5" y="499.5" width="8" height="34" fill="#fcfcfc" stroke="#ff3232" stroke-width="1"/>
<rect x="1564" y="567" width="1" height="31" fill="#ff3232"/>
<rect x="1560.5" y="554.5" width="8" height="12" fill="#fcfcfc" stroke="#ff3232" stroke-width="1"/>
<rect x="1576" y="550" width="1" height="28" fill="#379637"/>
<rect x="1572" y="554" width="9" height="21" fill="#379637"/>
<rect x="1588" y="571" width="1" height="23" fill="#379637"/>
<rect x="1584" y="575" width="9" height="17" fill="#379637"/>
<rect x="1600" y="570" width="1" height="1" fill="#ff3232"/>
<rect x="1600" y="593" width="1" height="14" fill="#ff3232"/>
<rect x="1596.5" y="571.5" width="8" height="21" fill="#fcfcfc" stroke="#ff3232" stroke-width="1"/>
<rect x="1613" y="514" width="1" height="1" fill="#ff3232"/>
<rect x="1609.5" y="515.5" width="8" height="66" fill="#fcfcfc" stroke="#ff3232" stroke-width="1"/>
<rect x="1625" y="516" width="1" height="6" fill="#ff3232"/>
<rect x="1621.5" y="495.5" width="8" height="20" fill="#fcfcfc" stroke="#ff3232" stroke-width="1"/>
<rect x="1637" y="477" width="1" height="6" fill="#ff3232"/>
<rect x="1633.5" y="483.5" width="8" height="10" fill="#fcfcfc" stroke="#ff3232" stroke-width="1"/>
<rect x="1649" y="475" width="1" height="14" fill="#379637"/>
<rect x="1645" y="482" width="9" height="1" fill="#379637"/>
<rect x="1661" y="492" width="1" height="14" fill="#379637"/>
<rect x="1657" y="493" width="9" height="10" fill="#379637"/>
<rect x="1673" y="504" width="1" height="7" fill="#ff3232"/>
<rect x="1669.5" y="489.5" width="8" height="14" fill="#fcfcfc" stroke="#ff3232" stroke-width="1"/>
<rect x="1686" y="487" width="1" height="15" fill="#379637"/>
<rect x="1682" y="489" width="9" height="13" fill="#379637"/>
<rect x="1698" y="490" width="1" height="4" fill="#ff3232"/>
<rect x="1698" y="503" width="1" height="3" fill="#ff3232"/>
<rect x="1694.5" y="494.5" width="8" height="8" fill="#fcfcfc" stroke="#ff3232" stroke-width="1"/>
<rect x="1710" y="484" width="1" height="37" fill="#379637"/>
<rect x="1706" y="500" width="9" height="21" fill="#379637"/>
<rect x="1722" y="509" width="1" height="4" fill="#ff3232"/>
<rect x="1722" y="521" width="1" height="11" fill="#ff3232"/>
<rect x="1718.5" y="513.5" width="8" height="7" fill="#fcfcfc" stroke="#ff3232" stroke-width="1"/>
<rect x="1734" y="513" width="1" height="18" fill="#379637"/>
<rect x="1730" y="513" width="9" height="12" fill="#379637"/>
<rect x="1746" y="527" width="1" height="3" fill="#ff3232"/>
<rect x="1742.5" y="518.5" width="8" height="8" fill="#fcfcfc" stroke="#ff3232" stroke-width="1"/>
</g>
<polygon points="5.7,24.3 18.5,35.7 31.2,47.1 44.0,58.5 56.7,69.9 69.4,81.4 82.1,92.8 94.8,104.3 107.5,115.7 120.2,127.2 132.9,138.7 145.5,150.2 158.2,161.7 170.8,173.2 183.5,184.7 186.4,181.4 173.5,170.2 160.6,159.0 147.7,147.8 134.8,136.5 121.9,125.3 109.0,114.0 96.1,102.8 83.3,91.5 70.4,80.2 57.6,69.0 44.7,57.7 31.9,46.4 19.1,35.0 6.3,23.7" fill="#3556d0"/>
<polygon points="190.5,188.0 179.9,185.0 184.9,183.1 186.3,177.8" fill="#3556d0"/>
<polygon points="191.4,189.4 208.8,180.9 226.3,172.5 243.8,164.0 261.3,155.6 278.7,147.1 296.2,138.7 313.7,130.2 331.1,121.8 348.6,113.3 366.1,104.9 383.5,96.4 401.0,88.0 418.5,79.5 436.0,71.1 433.7,66.5 416.4,75.2 399.0,84.0 381.7,92.7 364.4,101.4 347.0,110.1 329.7,118.9 312.4,127.6 295.0,136.3 277.7,145.0 260.4,153.7 243.0,162.5 225.7,171.2 208.4,179.9 191.0,188.6" fill="#3556d0"/>
<polygon points="441.5,65.5 434.8,74.2 434.8,68.8 430.5,65.5" fill="#3556d0"/>
<polygon points="441.2,65.8 451.4,75.0 461.6,84.2 471.8,93.4 482.0,102.6 492.1,111.8 502.3,120.9 512.5,130.1 522.7,139.3 532.9,148.5 543.0,157.7 553.2,166.9 563.4,176.1 573.6,185.3 583.8,194.5 587.1,190.7 576.7,181.7 566.3,172.8 556.0,163.8 545.6,154.8 535.2,145.9 524.8,136.9 514.4,127.9 504.0,119.0 493.7,110.0 483.3,101.1 472.9,92.1 462.5,83.1 452.1,74.2 441.8,65.2" fill="#3556d0"/>
<polygon points="591.0,197.5 580.4,194.6 585.4,192.6 586.8,187.3" fill="#3556d0"/>
<polygon points="591.3,197.7 593.9,193.6 596.4,189.6 598.9,185.5 601.4,181.4 603.9,177.4 606.5,173.3 609.0,169.2 611.5,165.2 614.0,161.1 616.5,157.0 619.0,153.0 621.6,148.9 624.1,144.8 626.6,140.8 622.0,138.1 619.8,142.4 617.5,146.6 615.3,150.8 613.0,155.0 610.8,159.3 608.6,163.5 606.3,167.7 604.1,171.9 601.8,176.2 599.6,180.4 597.4,184.6 595.1,188.8 592.9,193.1 590.7,197.3" fill="#3556d0"/>
<polygon points="628.0,133.0 627.3,144.0 624.3,139.4 618.9,139.2" fill="#3556d0"/>
<polygon points="627.7,133.3 649.0,157.8 670.3,182.4 691.5,207.0 712.8,231.6 734.0,256.2 755.3,280.8 776.5,305.4 797.7,330.0 818.9,354.7 840.1,379.3 861.3,403.9 882.5,428.6 903.7,453.2 924.9,477.9 928.3,474.9 906.9,450.5 885.4,426.1 863.9,401.7 842.5,377.3 821.0,352.8 799.6,328.4 778.1,304.0 756.7,279.5 735.3,255.1 713.9,230.6 692.5,206.2 671.1,181.7 649.7,157.2 628.3,132.7" fill="#3556d0"/>
<polygon points="931.5,482.0 921.3,477.7 926.6,476.4 928.7,471.3" fill="#3556d0"/>
<polygon points="931.9,482.2 935.2,475.7 938.5,469.3 941.9,462.9 945.2,456.4 948.6,450.0 951.9,443.5 955.2,437.1 958.6,430.7 961.9,424.2 965.3,417.8 968.6,411.4 971.9,404.9 975.3,398.5 978.6,392.0 974.8,390.2 971.7,396.7 968.6,403.2 965.5,409.8 962.3,416.3 959.2,422.9 956.1,429.4 953.0,436.0 949.9,442.5 946.7,449.1 943.6,455.6 940.5,462.2 937.4,468.7 934.3,475.3 931.1,481.8" fill="#3556d0"/>
<polygon points="980.0,384.5 979.9,395.4 976.7,391.1 971.3,391.2" fill="#3556d0"/>
<polygon points="979.7,384.8 992.4,397.2 1005.1,409.7 1017.7,422.1 1030.4,434.6 1043.0,447.0 1055.6,459.5 1068.3,472.0 1080.9,484.5 1093.5,497.0 1106.1,509.5 1118.7,522.0 1131.3,534.5 1143.9,547.0 1156.6,559.5 1159.8,556.2 1146.9,543.9 1134.1,531.6 1121.3,519.4 1108.4,507.1 1095.6,494.9 1082.7,482.6 1069.9,470.3 1057.1,458.0 1044.3,445.8 1031.4,433.5 1018.6,421.2 1005.8,408.9 993.0,396.5 980.3,384.2" fill="#3556d0"/>
<polygon points="1163.5,563.0 1153.0,559.6 1158.2,557.8 1159.8,552.6" fill="#3556d0"/>
<polygon points="1163.9,563.2 1167.2,557.2 1170.5,551.2 1173.8,545.2 1177.1,539.2 1180.4,533.2 1183.8,527.2 1187.1,521.2 1190.4,515.2 1193.7,509.2 1197.0,503.2 1200.3,497.2 1203.7,491.2 1207.0,485.3 1210.3,479.3 1205.8,476.9 1202.8,483.0 1199.7,489.2 1196.7,495.3 1193.6,501.5 1190.6,507.6 1187.5,513.7 1184.5,519.9 1181.4,526.0 1178.4,532.1 1175.3,538.3 1172.3,544.4 1169.2,550.5 1166.2,556.7 1163.1,562.8" fill="#3556d0"/>
<polygon points="1211.5,471.5 1211.2,482.5 1208.0,478.1 1202.6,478.0" fill="#3556d0"/>
<polygon points="1211.1,471.7 1216.1,483.9 1221.2,496.2 1226.2,508.4 1231.1,520.7 1236.1,533.0 1241.1,545.3 1246.1,557.5 1251.1,569.8 1256.1,582.1 1261.0,594.4 1266.0,606.6 1271.0,618.9 1276.0,631.2 1280.9,643.5 1284.0,642.2 1278.8,630.0 1273.6,617.8 1268.5,605.6 1263.3,593.4 1258.2,581.2 1253.0,569.0 1247.8,556.8 1242.7,544.6 1237.5,532.4 1232.4,520.2 1227.3,508.0 1222.1,495.8 1217.0,483.6 1211.9,471.3" fill="#3556d0"/>
<polygon points="1285.0,649.0 1277.6,642.4 1282.4,642.8 1285.6,639.1" fill="#3556d0"/>
<polygon points="1285.4,649.1 1287.9,642.8 1290.4,636.5 1292.9,630.2 1295.4,623.9 1298.0,617.6 1300.5,611.3 1303.0,605.0 1305.5,598.7 1308.0,592.3 1310.5,586.0 1313.0,579.7 1315.6,573.4 1318.1,567.1 1320.6,560.8 1316.2,559.1 1313.9,565.5 1311.7,572.0 1309.4,578.4 1307.2,584.8 1304.9,591.2 1302.7,597.6 1300.4,604.0 1298.2,610.4 1295.9,616.8 1293.6,623.2 1291.4,629.6 1289.1,636.0 1286.9,642.5 1284.6,648.9" fill="#3556d0"/>
<polygon points="1321.0,553.0 1322.1,564.0 1318.4,560.0 1313.0,560.6" fill="#3556d0"/>
<polygon points="1320.7,553.2 1328.1,562.7 1335.4,572.2 1342.8,581.6 1350.1,591.1 1357.4,600.6 1364.8,610.1 1372.1,619.5 1379.4,629.0 1386.7,638.5 1394.0,648.0 1401.3,657.5 1408.6,667.0 1416.0,676.5 1423.2,686.0 1426.6,683.4 1419.1,674.1 1411.5,664.8 1404.0,655.5 1396.4,646.1 1388.9,636.8 1381.4,627.5 1373.8,618.2 1366.3,608.8 1358.8,599.5 1351.3,590.2 1343.8,580.8 1336.3,571.5 1328.8,562.1 1321.3,552.8" fill="#3556d0"/>
<polygon points="1429.5,690.5 1419.6,685.8 1424.9,684.7 1427.2,679.8" fill="#3556d0"/>
<polygon points="1431.4,694.7 1437.4,681.3 1443.3,667.9 1449.3,654.5 1455.3,641.1 1461.3,627.7 1467.3,614.3 1473.3,601.0 1479.3,587.6 1485.2,574.2 1491.2,560.8 1497.2,547.4 1503.2,534.0 1509.2,520.6 1515.2,507.2 1510.9,505.4 1505.2,518.9 1499.4,532.4 1493.7,545.9 1488.0,559.4 1482.2,572.9 1476.5,586.4 1470.8,599.9 1465.0,613.4 1459.3,626.9 1453.6,640.4 1447.8,653.8 1442.1,667.3 1436.4,680.8 1430.6,694.3" fill="#3556d0"/>
<polygon points="1516.0,499.5 1516.5,510.5 1513.0,506.3 1507.6,506.6" fill="#3556d0"/>
<polygon points="1515.7,499.8 1521.3,506.9 1526.9,514.0 1532.5,521.2 1538.1,528.3 1543.7,535.4 1549.3,542.6 1554.9,549.7 1560.6,556.8 1566.2,564.0 1571.8,571.1 1577.4,578.2 1583.0,585.4 1588.6,592.5 1594.2,599.6 1597.5,596.9 1591.7,589.9 1585.9,583.0 1580.1,576.0 1574.3,569.0 1568.5,562.0 1562.7,555.1 1556.9,548.1 1551.1,541.1 1545.3,534.1 1539.5,527.2 1533.7,520.2 1527.9,513.2 1522.1,506.2 1516.3,499.2" fill="#3556d0"/>
<polygon points="1600.5,604.0 1590.6,599.4 1595.9,598.3 1598.1,593.3" fill="#3556d0"/>
<polygon points="1600.9,604.1 1604.3,595.5 1607.7,586.8 1611.1,578.1 1614.5,569.5 1617.9,560.8 1621.3,552.2 1624.7,543.5 1628.2,534.8 1631.6,526.2 1635.0,517.5 1638.5,508.9 1641.9,500.2 1645.4,491.6 1648.8,482.9 1645.1,481.5 1641.9,490.2 1638.7,499.0 1635.5,507.7 1632.3,516.5 1629.1,525.2 1625.9,534.0 1622.7,542.7 1619.5,551.5 1616.3,560.2 1613.1,568.9 1609.8,577.7 1606.6,586.4 1603.4,595.1 1600.1,603.9" fill="#3556d0"/>
<polygon points="1649.5,475.5 1650.5,486.1 1646.9,482.2 1641.7,482.8" fill="#3556d0"/>
<polygon points="1650.8,475.6 1655.3,479.4 1659.9,483.2 1664.5,487.0 1669.0,490.8 1673.6,494.6 1678.2,498.3 1682.8,502.1 1687.3,505.9 1691.9,509.7 1696.5,513.5 1701.1,517.3 1705.6,521.1 1710.2,524.9 1714.8,528.6 1717.6,525.1 1712.8,521.6 1708.1,518.0 1703.4,514.4 1698.6,510.8 1693.9,507.2 1689.1,503.6 1684.4,500.1 1679.7,496.5 1674.9,492.9 1670.2,489.3 1665.5,485.7 1660.7,482.2 1656.0,478.6 1651.2,475.0" fill="#3556d0"/>
<polygon points="1722.0,531.5 1711.2,529.2 1716.2,526.9 1717.2,521.5" fill="#3556d0"/>
<polygon points="190.5,188.4 221.2,184.7 251.8,181.0 282.5,177.3 313.1,173.6 343.7,169.9 374.4,166.2 405.0,162.5 435.7,158.8 466.3,155.1 496.9,151.4 527.6,147.7 558.2,144.0 588.9,140.3 619.5,136.6 618.9,132.1 588.3,136.1 557.7,140.0 527.1,144.0 496.5,148.0 465.9,151.9 435.3,155.9 404.7,159.8 374.1,163.8 343.5,167.8 312.9,171.7 282.3,175.7 251.7,179.7 221.1,183.6 190.5,187.6" fill="#ff1fee"/>
<polygon points="627.5,133.3 617.1,139.6 619.2,134.3 615.8,129.8" fill="#ff1fee"/>
<polygon points="931.5,483.4 950.9,482.6 970.2,481.9 989.6,481.2 1008.9,480.5 1028.3,479.8 1047.6,479.1 1067.0,478.5 1086.3,477.8 1105.7,477.2 1125.0,476.7 1144.4,476.1 1163.8,475.5 1183.1,475.0 1202.5,474.5 1202.3,469.8 1182.9,470.8 1163.6,471.8 1144.3,472.9 1124.9,473.8 1105.6,474.8 1086.2,475.8 1066.9,476.7 1047.6,477.6 1028.2,478.5 1008.9,479.3 989.5,480.2 970.2,481.0 950.8,481.8 931.5,482.6" fill="#ff1fee"/>
<polygon points="1211.0,471.8 1199.7,477.4 1202.4,472.1 1199.3,467.1" fill="#ff1fee"/>
<polygon points="1211.2,471.8 1226.4,487.3 1241.6,502.9 1256.8,518.5 1272.0,534.1 1287.2,549.7 1302.4,565.3 1317.5,581.0 1332.7,596.6 1347.8,612.3 1362.9,627.9 1378.1,643.6 1393.2,659.2 1408.3,674.9 1423.4,690.6 1426.7,687.3 1411.3,671.9 1395.9,656.5 1380.5,641.1 1365.1,625.7 1349.8,610.3 1334.4,594.9 1319.0,579.5 1303.7,564.0 1288.3,548.6 1273.0,533.1 1257.7,517.7 1242.4,502.2 1227.1,486.7 1211.8,471.2" fill="#ff1fee"/>
<polygon points="1431.0,695.0 1419.5,690.5 1425.1,688.9 1426.7,683.4" fill="#ff1fee"/>
<polygon points="1431.3,694.8 1446.4,679.7 1461.6,664.6 1476.8,649.5 1491.9,634.4 1507.1,619.3 1522.2,604.2 1537.4,589.1 1552.5,573.9 1567.7,558.8 1582.9,543.7 1598.0,528.6 1613.2,513.5 1628.3,498.4 1643.5,483.3 1640.7,480.6 1625.7,495.8 1610.7,511.1 1595.7,526.3 1580.7,541.6 1565.7,556.9 1550.7,572.1 1535.7,587.4 1520.7,602.7 1505.7,617.9 1490.7,633.2 1475.7,648.4 1460.7,663.7 1445.7,679.0 1430.7,694.2" fill="#ff1fee"/>
<polygon points="1647.7,476.3 1643.6,487.1 1642.1,481.9 1636.9,480.5" fill="#ff1fee"/>
<g font-family="Liberation Serif, serif" font-size="16" fill="#111" text-anchor="middle">
<text x="8" y="52.7">0</text>
<text x="189.5" y="204.8">1</text>
<text x="628" y="126">2</text>
<text x="932.5" y="500">3</text>
<text x="1212" y="465.5">4</text>
<text x="1435.5" y="713">40</text>
<text x="1652.5" y="471">41</text>
<text x="1726.5" y="550">42</text>
</g>
<path d="M6.5 24 C7 21.5 8 21.5 9.5 22 M6.5 24 C10 24.5 13 28 18 26.5" fill="none" stroke="#3c3c3c" stroke-width="1"/>
<text x="20.5" y="32" font-size="12" fill="#3c3c3c">3156.62</text>
<path d="M1430.5 697.5 H1442.5 M1433.5 695 L1430.5 697.5 L1433.5 700" fill="none" stroke="#3c3c3c" stroke-width="1"/>
<text x="1444" y="703" font-size="12" fill="#3c3c3c">2691.15</text>
<text x="2.5" y="0" font-size="12" fill="#3c3c3c" transform="translate(0,16.3) scale(1,1.08)">999999 上证指数(60分钟.前复权)</text>
<path d="M185 8 H192 L188.5 14.8 Z" fill="none" stroke="#3c3c3c" stroke-width="1"/>
<path d="M2.5 726.5 H10.5 L6.5 734.5 Z" fill="none" stroke="#3c3c3c" stroke-width="1"/>
<text x="13.4" y="735" font-size="12" fill="#3c3c3c" textLength="81.4" lengthAdjust="spacingAndGlyphs">VOL-TDX(5,10)</text>
<text x="100" y="735" font-size="12" fill="#3c3c3c">VVOL: 2852754.00</text>
<text x="212" y="735" font-size="12" fill="#1080d8">VOLUME: 2852754.00</text>
<text x="339" y="735" font-size="12" fill="#1080d8">MA5: 3303991.50</text>
<text x="438.5" y="735" font-size="12" fill="#800080">MA10: 3573056.00</text>
</svg>
</body></html>
